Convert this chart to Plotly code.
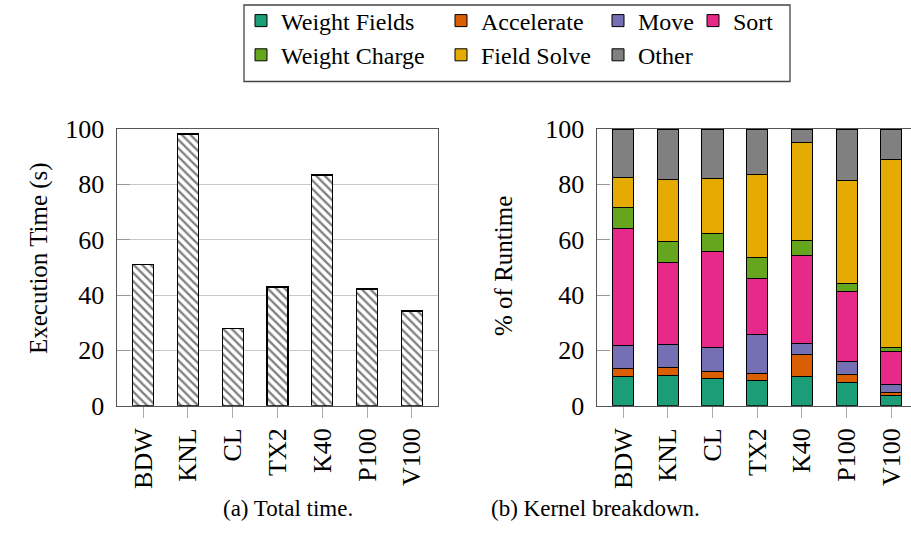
import plotly.graph_objects as go

categories = ["BDW", "KNL", "CL", "TX2", "K40", "P100", "V100"]
total_time = [51.0, 98.2, 28.0, 42.9, 83.4, 42.2, 34.2]

series_names = ["Weight Fields", "Accelerate", "Move", "Sort",
                "Weight Charge", "Field Solve", "Other"]
weight_fields = [10.7, 11.0, 9.8, 9.2, 10.6, 8.4, 3.7]
accelerate = [2.8, 2.9, 2.4, 2.4, 8.0, 2.8, 1.2]
move = [8.2, 8.3, 8.9, 14.3, 3.9, 4.6, 2.8]
sort_ = [42.4, 29.7, 34.7, 19.9, 31.8, 25.5, 11.8]
weight_charge = [7.5, 7.5, 6.6, 7.9, 5.5, 2.9, 1.5]
field_solve = [10.8, 22.3, 19.6, 29.7, 35.4, 37.1, 67.8]
other = [17.6, 18.3, 18.0, 16.6, 4.8, 18.7, 11.2]
breakdown = [weight_fields, accelerate, move, sort_, weight_charge, field_solve, other]
colors = ["#1b9e77", "#d95f02", "#7570b3", "#e7298a", "#66a61e", "#e6ab02", "#808080"]
legend_of = ["legend", "legend2", "legend3", "legend4", "legend", "legend2", "legend3"]

SERIF = "Liberation Serif"
TICK_FONT = dict(family=SERIF, size=26, color="black")
LEG_FONT = dict(family=SERIF, size=24, color="black")
AXC = "#555555"

fig = go.Figure()

fig.add_trace(go.Bar(
    x=categories, y=total_time, xaxis="x", yaxis="y", showlegend=False,
    marker=dict(color="white", line=dict(color="black", width=1.3),
                pattern=dict(shape="\\", fgcolor="black", bgcolor="white",
                             size=6, solidity=0.38)),
))

for name, vals, col, lg in zip(series_names, breakdown, colors, legend_of):
    fig.add_trace(go.Bar(
        x=categories, y=vals, name=name, xaxis="x2", yaxis="y2", legend=lg,
        marker=dict(color=col, line=dict(color="black", width=1)),
    ))

W, H = 911, 541
ydom = [(H - 405.7) / H, (H - 129) / H]

common_x = dict(type="category", tickangle=-90, ticks="outside", ticklen=11,
                tickcolor="#aaaaaa", tickfont=TICK_FONT, showline=True,
                linecolor=AXC, linewidth=1.3, showgrid=False, zeroline=False)
common_y = dict(range=[0, 100], tickvals=[0, 20, 40, 60, 80, 100], ticks="inside",
                ticklen=13, tickcolor="#999999", tickfont=TICK_FONT, showline=True,
                linecolor=AXC, linewidth=1.3, zeroline=False, ticklabelstandoff=6,
                domain=ydom)

leg_common = dict(orientation="v", yanchor="top", xanchor="left", y=1 + 1.5 / H,
                  bgcolor="rgba(0,0,0,0)", borderwidth=0, font=LEG_FONT,
                  traceorder="normal", tracegroupgap=0)

fig.update_layout(
    width=W, height=H, margin=dict(l=0, r=0, t=0, b=0, autoexpand=False),
    paper_bgcolor="white", plot_bgcolor="white",
    barmode="stack", bargap=0.53,
    xaxis=dict(domain=[116.7 / W, 438.3 / W], range=[-0.59, 6.59], mirror=True,
               anchor="y", **common_x),
    yaxis=dict(anchor="x", mirror=True, showgrid=True, gridcolor="#c8c8c8",
               gridwidth=1, **common_y),
    xaxis2=dict(domain=[596.7 / W, 1.0], range=[-0.59, 6.44], mirror=True,
                anchor="y2", **common_x),
    yaxis2=dict(anchor="x2", mirror=False, showgrid=False, **common_y),
    legend=dict(x=241 / W, **leg_common),
    legend2=dict(x=441 / W, **leg_common),
    legend3=dict(x=598 / W, **leg_common),
    legend4=dict(x=693 / W, **leg_common),
    shapes=[dict(type="rect", xref="paper", yref="paper",
                 x0=244 / W, x1=790 / W, y0=1 - 81.5 / H, y1=1 - 5 / H,
                 line=dict(color="#444444", width=1.3), fillcolor="rgba(0,0,0,0)")],
    annotations=[
        dict(text="Execution Time (s)", xref="paper", yref="paper", x=23 / W,
             y=1 - 258 / H, textangle=-90, showarrow=False,
             font=dict(family=SERIF, size=25, color="black")),
        dict(text="% of Runtime", xref="paper", yref="paper", x=503 / W,
             y=1 - 266 / H, textangle=-90, showarrow=False,
             font=dict(family=SERIF, size=25, color="black")),
        dict(text="(a) Total time.", xref="paper", yref="paper", x=220.5 / W,
             y=1 - 523 / H, showarrow=False,
             font=dict(family=SERIF, size=23, color="black")),
        dict(text="(b) Kernel breakdown.", xref="paper", yref="paper", x=701.7 / W,
             y=1 - 523 / H, showarrow=False,
             font=dict(family=SERIF, size=23, color="black")),
    ],
)

fig.write_html("out.html")
